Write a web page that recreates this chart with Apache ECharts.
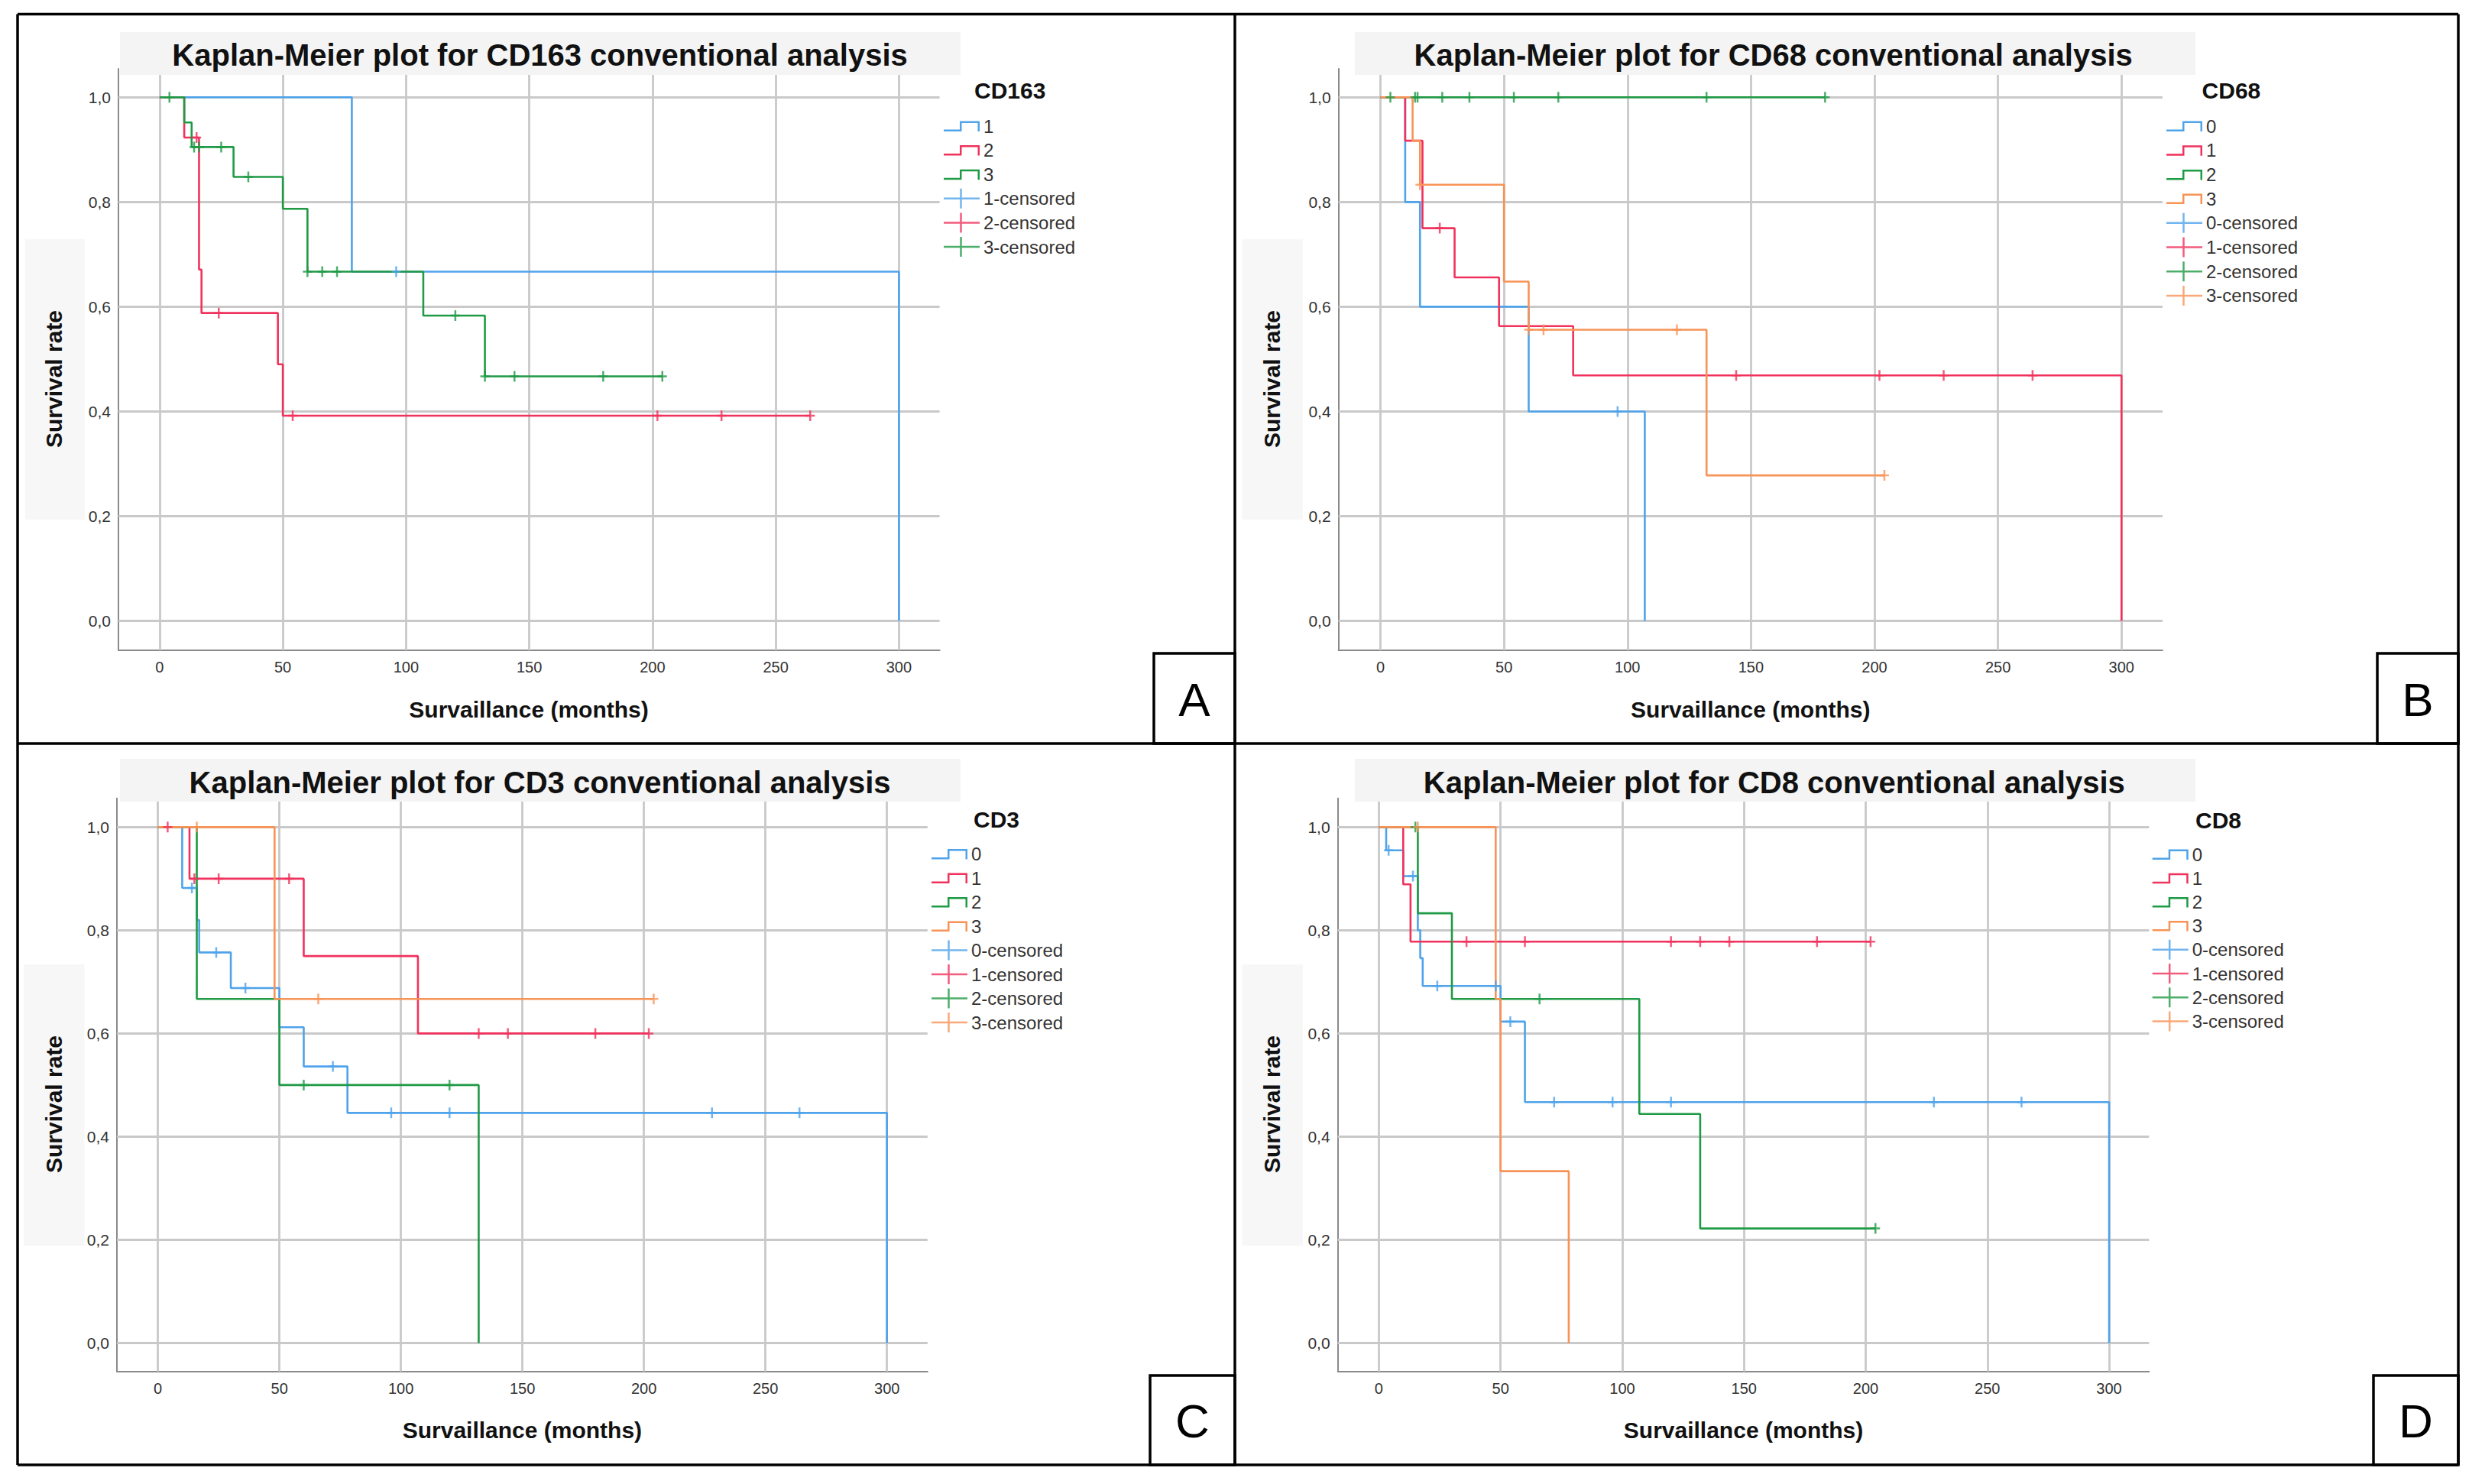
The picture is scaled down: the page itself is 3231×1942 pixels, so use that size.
<!DOCTYPE html>
<html><head><meta charset="utf-8">
<script src="https://cdn.jsdelivr.net/npm/echarts@6/dist/echarts.min.js"></script>
<style>html,body{margin:0;padding:0;background:#fff}#c{width:3231px;height:1942px}</style>
</head><body><div id="c"></div>
<script>
// ---------- tick labels ----------
const xTicks = [0, 50, 100, 150, 200, 250, 300];
const yTicks = [0, 0.2, 0.4, 0.6, 0.8, 1.0];

// ---------- Panel A : CD163 ----------
const A_1_time = [0, 78, 300];
const A_1_surv = [1, 0.667, 0];
const A_1_cens = [96];
const A_2_time = [0, 10, 16, 17, 48, 50, 264];
const A_2_surv = [1, 0.923, 0.671, 0.588, 0.490, 0.392, 0.392];
const A_2_cens = [15, 24, 54, 202, 228, 264];
const A_3_time = [0, 10, 13, 30, 50, 60, 107, 132, 204];
const A_3_surv = [1, 0.952, 0.905, 0.848, 0.787, 0.667, 0.583, 0.467, 0.467];
const A_3_cens = [4, 14, 16, 25, 36, 60, 66, 72, 120, 132, 144, 180, 204];

// ---------- Panel B : CD68 ----------
const B_0_time = [0, 10, 16, 60, 107];
const B_0_surv = [1, 0.8, 0.6, 0.4, 0];
const B_0_cens = [96];
const B_1_time = [0, 10, 17, 30, 48, 78, 300];
const B_1_surv = [1, 0.917, 0.75, 0.656, 0.563, 0.469, 0];
const B_1_cens = [24, 144, 202, 228, 264];
const B_2_time = [0, 180];
const B_2_surv = [1, 1];
const B_2_cens = [4, 14, 15, 25, 36, 54, 72, 132, 180];
const B_3_time = [0, 13, 16, 50, 60, 132, 204];
const B_3_surv = [1, 0.917, 0.833, 0.648, 0.556, 0.278, 0.278];
const B_3_cens = [16, 60, 66, 120, 204];

// ---------- Panel C : CD3 ----------
const C_0_time = [0, 10, 16, 17, 30, 50, 60, 78, 300];
const C_0_surv = [1, 0.882, 0.820, 0.757, 0.688, 0.612, 0.536, 0.446, 0];
const C_0_cens = [14, 24, 36, 72, 96, 120, 228, 264];
const C_1_time = [0, 13, 60, 107, 202];
const C_1_surv = [1, 0.9, 0.75, 0.6, 0.6];
const C_1_cens = [4, 15, 25, 54, 132, 144, 180, 202];
const C_2_time = [0, 16, 50, 132];
const C_2_surv = [1, 0.667, 0.5, 0];
const C_2_cens = [60, 120];
const C_3_time = [0, 48, 204];
const C_3_surv = [1, 0.667, 0.667];
const C_3_cens = [16, 66, 204];

// ---------- Panel D : CD8 ----------
const D_0_time = [0, 3, 10, 16, 17, 18, 50, 60, 300];
const D_0_surv = [1, 0.955, 0.905, 0.8, 0.746, 0.692, 0.623, 0.467, 0];
const D_0_cens = [4, 14, 24, 48, 54, 72, 96, 120, 228, 264];
const D_1_time = [0, 10, 13, 202];
const D_1_surv = [1, 0.889, 0.778, 0.778];
const D_1_cens = [36, 60, 120, 132, 144, 180, 202];
const D_2_time = [0, 16, 30, 107, 132, 204];
const D_2_surv = [1, 0.833, 0.667, 0.444, 0.222, 0.222];
const D_2_cens = [15, 66, 204];
const D_3_time = [0, 48, 50, 78];
const D_3_surv = [1, 0.667, 0.333, 0];
const D_3_cens = [16];

// ---------- styling / layout ----------
const FONT = '"Liberation Sans", Arial, Helvetica, sans-serif';
const BLUE = '#4FA3EA', RED = '#F0325D', GREEN = '#1F9A45', ORANGE = '#F89357';
const STEP_ICON = 'path://M0,0h0.01v0.01h-0.01Z M46.99,25.99h0.01v0.01h-0.01Z M0,17.5H21V6.5H47V20H44.5V9H23.5V20H0Z';
const CENS_ICON = 'path://M0,11.75H21.25V0H23.75V11.75H47V14.25H23.75V26H21.25V14.25H0Z';
const CENS_MARK = 'path://M0,5.75H4.75V0H7.25V5.75H12V8.25H7.25V14H4.75V8.25H0Z';

const panels = [
  { key: 'A', title: 'Kaplan-Meier plot for CD163 conventional analysis', legendTitle: 'CD163',
    groups: [
      { name: '1', color: BLUE, time: A_1_time, surv: A_1_surv, cens: A_1_cens },
      { name: '2', color: RED, time: A_2_time, surv: A_2_surv, cens: A_2_cens },
      { name: '3', color: GREEN, time: A_3_time, surv: A_3_surv, cens: A_3_cens }],
    grid: { left: 155, top: 90, width: 1074.6, height: 761 }, xr: [-16.7, 316.5], yr: [-0.056, 1.0544],
    titleBox: [157, 42, 1100, 56], titleXY: [706.6, 71.5],
    yBox: [32.7, 312.7, 78, 367.3], yTitleXY: [70.5, 496], xTitleXY: [692, 928],
    legTitle: [1275, 118], leg: [1235, 152, 5.6], letterBox: [1510, 855, 106, 118] },
  { key: 'B', title: 'Kaplan-Meier plot for CD68 conventional analysis', legendTitle: 'CD68',
    groups: [
      { name: '0', color: BLUE, time: B_0_time, surv: B_0_surv, cens: B_0_cens },
      { name: '1', color: RED, time: B_1_time, surv: B_1_surv, cens: B_1_cens },
      { name: '2', color: GREEN, time: B_2_time, surv: B_2_surv, cens: B_2_cens },
      { name: '3', color: ORANGE, time: B_3_time, surv: B_3_surv, cens: B_3_cens }],
    grid: { left: 1751.6, top: 90, width: 1078.3, height: 761 }, xr: [-17.0, 316.6], yr: [-0.056, 1.0544],
    titleBox: [1773, 42, 1100, 56], titleXY: [2320.7, 71.5],
    yBox: [1625.5, 312.7, 79.5, 367.3], yTitleXY: [1664, 496], xTitleXY: [2290.8, 928],
    legTitle: [2881.6, 118], leg: [2835, 152, 5.7], letterBox: [3111, 855, 106, 118] },
  { key: 'C', title: 'Kaplan-Meier plot for CD3 conventional analysis', legendTitle: 'CD3',
    groups: [
      { name: '0', color: BLUE, time: C_0_time, surv: C_0_surv, cens: C_0_cens },
      { name: '1', color: RED, time: C_1_time, surv: C_1_surv, cens: C_1_cens },
      { name: '2', color: GREEN, time: C_2_time, surv: C_2_surv, cens: C_2_cens },
      { name: '3', color: ORANGE, time: C_3_time, surv: C_3_surv, cens: C_3_cens }],
    grid: { left: 152.9, top: 1044.7, width: 1060.9, height: 750.1 }, xr: [-16.9, 316.7], yr: [-0.0553, 1.0558],
    titleBox: [157, 993, 1100, 56], titleXY: [706.6, 1024],
    yBox: [31, 1262, 79.5, 368], yTitleXY: [70.5, 1445], xTitleXY: [683.4, 1871],
    legTitle: [1274, 1072], leg: [1219, 1104.6, 5.5], letterBox: [1505, 1800, 111, 117] },
  { key: 'D', title: 'Kaplan-Meier plot for CD8 conventional analysis', legendTitle: 'CD8',
    groups: [
      { name: '0', color: BLUE, time: D_0_time, surv: D_0_surv, cens: D_0_cens },
      { name: '1', color: RED, time: D_1_time, surv: D_1_surv, cens: D_1_cens },
      { name: '2', color: GREEN, time: D_2_time, surv: D_2_surv, cens: D_2_cens },
      { name: '3', color: ORANGE, time: D_3_time, surv: D_3_surv, cens: D_3_cens }],
    grid: { left: 1750.6, top: 1044.7, width: 1061.7, height: 750.1 }, xr: [-16.9, 316.4], yr: [-0.0553, 1.0558],
    titleBox: [1773, 993, 1100, 56], titleXY: [2321.8, 1024],
    yBox: [1625.5, 1262, 79.5, 368], yTitleXY: [1664, 1445], xTitleXY: [2281.5, 1871],
    legTitle: [2873, 1073], leg: [2816.7, 1105, 5.2], letterBox: [3106, 1800, 111, 117] }
];

function survAt(time, surv, t) {
  let v = surv[0];
  for (let k = 0; k < time.length; k++) { if (time[k] <= t) v = surv[k]; }
  return v;
}
function txt(x, y, text, size, weight, extra) {
  return Object.assign({ type: 'text', x: x, y: y, z: 20,
    style: { text: text, fontSize: size, fontWeight: weight, fontFamily: FONT, fill: '#111',
      align: 'center', verticalAlign: 'middle', textAlign: 'center', textVerticalAlign: 'middle' } }, extra || {});
}
function rect(b, fill, stroke, lw, z) {
  return { type: 'rect', z: z, shape: { x: b[0], y: b[1], width: b[2], height: b[3] },
    style: { fill: fill, stroke: stroke, lineWidth: lw } };
}
function line(x1, y1, x2, y2) {
  return { type: 'line', z: 30, shape: { x1: x1, y1: y1, x2: x2, y2: y2 }, style: { stroke: '#000', lineWidth: 3.5 } };
}

const grids = [], xAxes = [], yAxes = [], series = [], legends = [], graphics = [];
panels.forEach(function (p, i) {
  grids.push(Object.assign({ containLabel: false }, p.grid));
  xAxes.push({ type: 'value', gridIndex: i, min: p.xr[0], max: p.xr[1],
    axisLine: { show: true, onZero: false, lineStyle: { color: '#8a8a8a', width: 2 } },
    axisTick: { show: false }, splitLine: { show: false },
    axisLabel: { customValues: xTicks, margin: 12, fontSize: 20, color: '#333', fontFamily: FONT } });
  yAxes.push({ type: 'value', gridIndex: i, min: p.yr[0], max: p.yr[1],
    axisLine: { show: true, onZero: false, lineStyle: { color: '#8a8a8a', width: 2 } },
    axisTick: { show: false }, splitLine: { show: false },
    axisLabel: { customValues: yTicks, margin: 10, fontSize: 21, color: '#333', fontFamily: FONT,
      formatter: function (v) { return (Math.round(v * 10) / 10).toFixed(1).replace('.', ','); } } });
  // grid lines through the axes' scales
  series.push({ type: 'line', name: p.key + '|grid', xAxisIndex: i, yAxisIndex: i, data: [], z: 1, silent: true,
    markLine: { silent: true, z: 1, symbol: ['none', 'none'], label: { show: false }, animation: false,
      lineStyle: { color: '#c9c9c9', width: 2.8, type: 'solid' }, emphasis: { disabled: true },
      data: yTicks.map(function (v) { return { yAxis: v }; }).concat(xTicks.map(function (v) { return { xAxis: v }; })) } });
  const legData = [];
  p.groups.forEach(function (g) {
    const nm = p.key + '|' + g.name;
    series.push({ name: nm, type: 'line', step: 'end', xAxisIndex: i, yAxisIndex: i,
      data: g.time.map(function (t, k) { return [t, g.surv[k]]; }),
      showSymbol: false, symbol: 'none', color: g.color,
      lineStyle: { color: g.color, width: 2.6 }, itemStyle: { color: g.color }, z: 3, animation: false });
    legData.push({ name: nm, icon: STEP_ICON });
  });
  p.groups.forEach(function (g) {
    const nm = p.key + '|' + g.name + '-censored';
    series.push({ name: nm, type: 'scatter', xAxisIndex: i, yAxisIndex: i,
      data: g.cens.map(function (t) { return [t, survAt(g.time, g.surv, t)]; }),
      symbol: CENS_MARK, symbolSize: [12, 14], itemStyle: { color: g.color }, z: 4, animation: false });
    legData.push({ name: nm, icon: CENS_ICON });
  });
  legends.push({ orient: 'vertical', left: p.leg[0], top: p.leg[1], itemGap: p.leg[2], padding: 0,
    itemWidth: 47, itemHeight: 26, selectedMode: false, data: legData,
    formatter: function (n) { return n.split('|')[1]; },
    itemStyle: { borderWidth: 0 },
    textStyle: { fontSize: 24, lineHeight: 26, color: '#333', fontFamily: FONT } });

  graphics.push(rect(p.titleBox, '#f4f4f4', null, 0, 10));
  graphics.push(txt(p.titleXY[0], p.titleXY[1], p.title, 40, 'bold'));
  graphics.push(rect(p.yBox, '#f7f7f7', null, 0, 10));
  graphics.push(txt(p.yTitleXY[0], p.yTitleXY[1], 'Survival rate', 30, 'bold', { rotation: Math.PI / 2 }));
  graphics.push(txt(p.xTitleXY[0], p.xTitleXY[1], 'Survaillance (months)', 30, 'bold'));
  const lt = txt(p.legTitle[0], p.legTitle[1], p.legendTitle, 30, 'bold');
  lt.style.align = 'left'; lt.style.textAlign = 'left';
  graphics.push(lt);
  graphics.push(rect(p.letterBox, '#fff', '#000', 3.5, 25));
  const lb = p.letterBox;
  const letter = txt(lb[0] + lb[2] / 2, lb[1] + lb[3] / 2 + 1, p.key, 62, 'normal');
  letter.z = 26; letter.style.fill = '#000';
  graphics.push(letter);
});
// outer frame and dividers
graphics.push(line(23, 18.5, 3217, 18.5));
graphics.push(line(23, 1917, 3217, 1917));
graphics.push(line(23, 18.5, 23, 1917));
graphics.push(line(3217, 18.5, 3217, 1917));
graphics.push(line(1616, 18.5, 1616, 1917));
graphics.push(line(23, 973, 3217, 973));

const chart = echarts.init(document.getElementById('c'), null, { renderer: 'svg' });
chart.setOption({
  backgroundColor: '#fff', animation: false,
  grid: grids, xAxis: xAxes, yAxis: yAxes, series: series, legend: legends,
  graphic: { elements: graphics }
});
</script></body></html>
